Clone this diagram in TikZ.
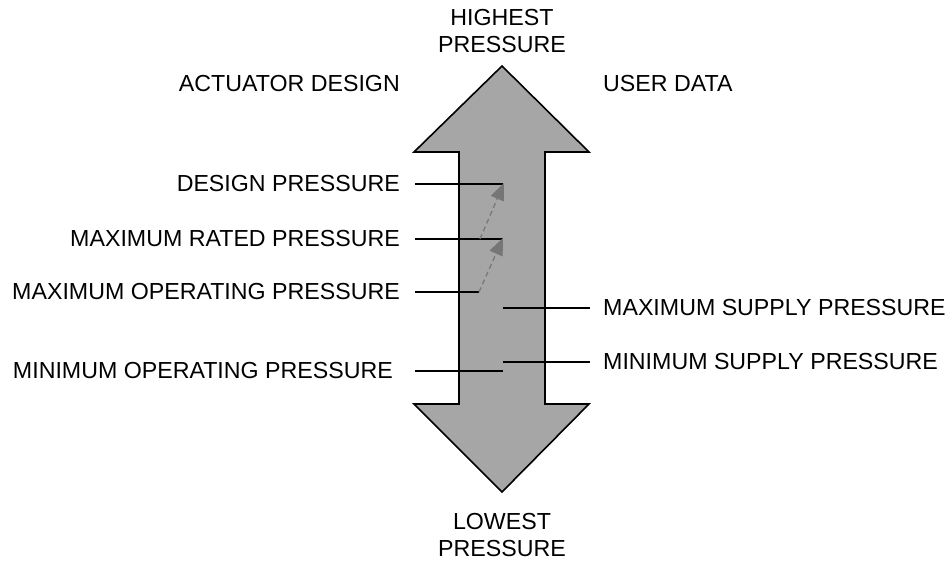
\documentclass[tikz,border=0pt]{standalone}
\usepackage{fontspec}
\setmainfont{Liberation Sans}
\usetikzlibrary{arrows.meta}
\definecolor{bodygray}{HTML}{A6A6A6}
\definecolor{stepgray}{HTML}{767676}

\begin{document}
\begin{tikzpicture}[
          x=1pt, y=-1pt,
          txt/.style = {inner sep=0pt, align=center, font=\fontsize{23.2}{26.5}\selectfont},
          body/.style = {draw, fill=bodygray, line width=1.6pt, line join=miter},
          leader/.style = {line width=1.2pt},
          shiftup/.style = {dashed, dash pattern=on 5pt off 3.5pt, stepgray, line width=1.2pt,
                            -{Triangle[length=17pt,width=14pt]}}
        ]
        \useasboundingbox (0,0) rectangle (951,565);

        % Double arrow
        \draw[body] (502,66) -- (589,152) -- (545,152) -- (545,404) -- (589,404) -- (502,492)
              -- (414,404) -- (459,404) -- (459,152) -- (414,152) -- cycle;

        % Nodes
        \node[txt] (high) at (502,31) {HIGHEST\\PRESSURE};
        \node[txt] (low) at (502,535) {LOWEST\\PRESSURE};
        \node[txt, anchor=east] (design) at (400,84) {ACTUATOR DESIGN};
        \node[txt, anchor=west] (user) at (603,84) {USER DATA};

        \node[txt, anchor=east] (dp) at (400,184) {DESIGN PRESSURE};
        \node[txt, anchor=east] (mrp) at (400,239) {MAXIMUM RATED PRESSURE};
        \node[txt, anchor=east] (mop) at (400,292) {MAXIMUM OPERATING PRESSURE};
        \node[txt, anchor=east] (minop) at (393,371) {MINIMUM OPERATING PRESSURE};
        \node[txt, anchor=west] (msp) at (603,308) {MAXIMUM SUPPLY PRESSURE};
        \node[txt, anchor=west] (minsp) at (603,362) {MINIMUM SUPPLY PRESSURE};

        % Inner ends of the leaders
        \coordinate (dp-end) at (503,184);
        \coordinate (mrp-end) at (503,239);
        \coordinate (mop-end) at (479,292);
        \coordinate (minop-end) at (503,371);
        \coordinate (msp-end) at (503,308);
        \coordinate (minsp-end) at (503,362);

        % Leaders
        \draw[leader] ([xshift=15pt]dp.east) -- (dp-end);
        \draw[leader] ([xshift=15pt]mrp.east) -- (mrp-end);
        \draw[leader] ([xshift=15pt]mop.east) -- (mop-end);
        \draw[leader] ([xshift=22pt]minop.east) -- (minop-end);
        \draw[leader] ([xshift=-13pt]msp.west) -- (msp-end);
        \draw[leader] ([xshift=-13pt]minsp.west) -- (minsp-end);

        % Margin steps
        \draw[shiftup] (mop-end) -- ([yshift=1pt]mrp-end);
        \draw[shiftup] ([xshift=-23pt]mrp-end) -- ([xshift=1pt,yshift=1pt]dp-end);

      \end{tikzpicture}
\end{document}
